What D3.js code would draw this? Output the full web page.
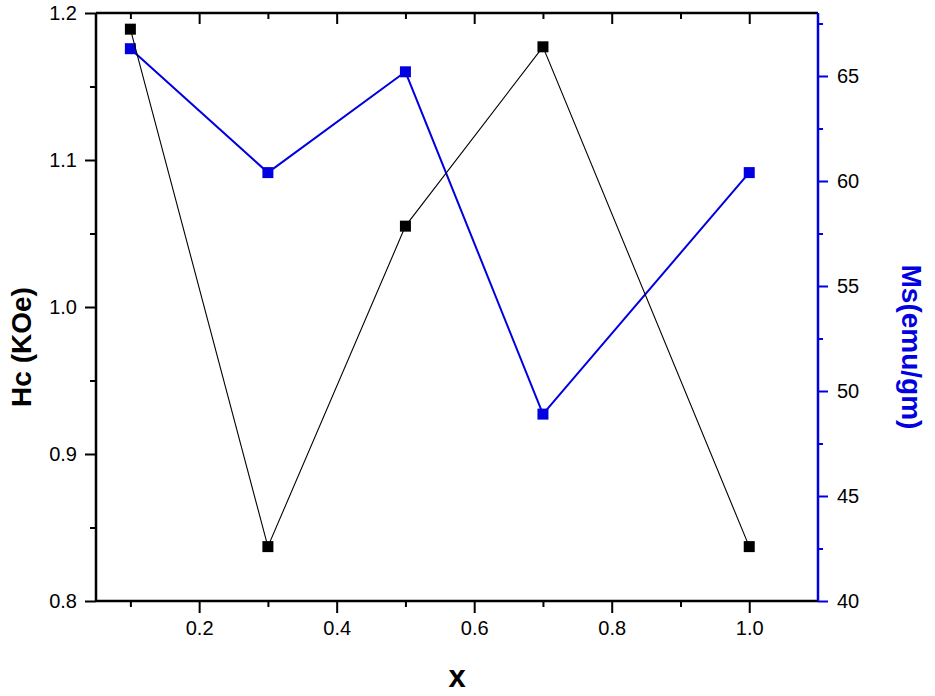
<!DOCTYPE html>
<html>
<head>
<meta charset="utf-8">
<script src="https://cdn.jsdelivr.net/npm/d3@7"></script>
<style>
  html, body { margin: 0; padding: 0; background: #fff; }
  svg { display: block; font-family: "Liberation Sans", Arial, sans-serif; }
</style>
</head>
<body>
<svg id="chart" width="935" height="696"></svg>
<script>
// ---- data ----
const xValues = [0.1, 0.3, 0.5, 0.7, 1.0];
const hcValues = [1.189, 0.837, 1.055, 1.177, 0.837];   // Hc (KOe), left axis
const msValues = [66.3, 60.4, 65.2, 48.9, 60.4];         // Ms (emu/gm), right axis
const xTicks = [0.2, 0.4, 0.6, 0.8, 1.0];
const xMinorTicks = [0.1, 0.3, 0.5, 0.7, 0.9];
const hcTicks = [0.8, 0.9, 1.0, 1.1, 1.2];
const hcMinorTicks = [0.85, 0.95, 1.05, 1.15];
const msTicks = [40, 45, 50, 55, 60, 65];
const msMinorTicks = [42.5, 47.5, 52.5, 57.5, 62.5, 67.5];

const BLUE = "#0000e0";
const svg = d3.select("#chart");
const L = 96, R = 818, T = 13, B = 601;

const x = d3.scaleLinear().domain([0.05, 1.1]).range([L, R]);
const yL = d3.scaleLinear().domain([0.8, 1.2]).range([B, T]);
const yR = d3.scaleLinear().domain([40, 68]).range([B, T]);

function styleAxis(g, color, fontSize) {
  g.select(".domain").remove();
  g.selectAll(".tick line").attr("stroke", color).attr("stroke-width", 2);
  g.selectAll(".tick text").attr("fill", "#000").attr("font-size", fontSize)
    .attr("font-family", "Liberation Sans, Arial, sans-serif");
}

// bottom axis
const gB = svg.append("g").attr("transform", `translate(0,${B})`)
  .call(d3.axisBottom(x).tickValues(xTicks).tickSize(12).tickPadding(8).tickFormat(d3.format(".1f")));
styleAxis(gB, "#000", 20);
svg.append("g").attr("transform", `translate(0,${B})`)
  .call(d3.axisBottom(x).tickValues(xMinorTicks).tickSize(6).tickFormat(""))
  .call(g => styleAxis(g, "#000", 20));

// top axis (ticks inward)
svg.append("g").attr("transform", `translate(0,${T})`)
  .call(d3.axisBottom(x).tickValues(xTicks).tickSize(11).tickFormat(""))
  .call(g => styleAxis(g, "#000", 20));
svg.append("g").attr("transform", `translate(0,${T})`)
  .call(d3.axisBottom(x).tickValues(xMinorTicks).tickSize(6).tickFormat(""))
  .call(g => styleAxis(g, "#000", 20));

// left axis
const gL = svg.append("g").attr("transform", `translate(${L},0)`)
  .call(d3.axisLeft(yL).tickValues(hcTicks).tickSize(11).tickPadding(8).tickFormat(d3.format(".1f")));
styleAxis(gL, "#000", 20);
svg.append("g").attr("transform", `translate(${L},0)`)
  .call(d3.axisLeft(yL).tickValues(hcMinorTicks).tickSize(6).tickFormat(""))
  .call(g => styleAxis(g, "#000", 20));

// right axis (blue)
const gR = svg.append("g").attr("transform", `translate(${R},0)`)
  .call(d3.axisRight(yR).tickValues(msTicks).tickSize(10).tickPadding(9).tickFormat(d3.format("d")));
styleAxis(gR, BLUE, 20);
svg.append("g").attr("transform", `translate(${R},0)`)
  .call(d3.axisRight(yR).tickValues(msMinorTicks).tickSize(5).tickFormat(""))
  .call(g => styleAxis(g, BLUE, 20));

// frame
svg.append("line").attr("x1", L).attr("x2", R).attr("y1", B).attr("y2", B).attr("stroke", "#000").attr("stroke-width", 2.5);
svg.append("line").attr("x1", L).attr("x2", R).attr("y1", T).attr("y2", T).attr("stroke", "#000").attr("stroke-width", 2.5);
svg.append("line").attr("x1", L).attr("x2", L).attr("y1", T).attr("y2", B).attr("stroke", "#000").attr("stroke-width", 2.5);
svg.append("line").attr("x1", R).attr("x2", R).attr("y1", T).attr("y2", B).attr("stroke", BLUE).attr("stroke-width", 2.5);

// series: Ms (blue)
const msData = xValues.map((v, i) => [v, msValues[i]]);
svg.append("path").datum(msData)
  .attr("fill", "none").attr("stroke", BLUE).attr("stroke-width", 2)
  .attr("d", d3.line().x(d => x(d[0])).y(d => yR(d[1])));
svg.selectAll(".msPt").data(msData).enter().append("rect")
  .attr("x", d => x(d[0]) - 5.5).attr("y", d => yR(d[1]) - 5.5)
  .attr("width", 11).attr("height", 11).attr("fill", BLUE);

// series: Hc (black)
const hcData = xValues.map((v, i) => [v, hcValues[i]]);
svg.append("path").datum(hcData)
  .attr("fill", "none").attr("stroke", "#000").attr("stroke-width", 1.1)
  .attr("d", d3.line().x(d => x(d[0])).y(d => yL(d[1])));
svg.selectAll(".hcPt").data(hcData).enter().append("rect")
  .attr("x", d => x(d[0]) - 5.5).attr("y", d => yL(d[1]) - 5.5)
  .attr("width", 11).attr("height", 11).attr("fill", "#000");

// titles
svg.append("text").attr("transform", "translate(31,347) rotate(-90)")
  .attr("text-anchor", "middle").attr("font-size", 28).attr("font-weight", "bold")
  .attr("fill", "#000").text("Hc (KOe)");
svg.append("text").attr("transform", "translate(902,347) rotate(90)")
  .attr("text-anchor", "middle").attr("font-size", 28).attr("font-weight", "bold")
  .attr("fill", BLUE).text("Ms(emu/gm)");
svg.append("text").attr("x", 457).attr("y", 687)
  .attr("text-anchor", "middle").attr("font-size", 31).attr("font-weight", "bold")
  .attr("fill", "#000").text("x");
</script>
</body>
</html>
